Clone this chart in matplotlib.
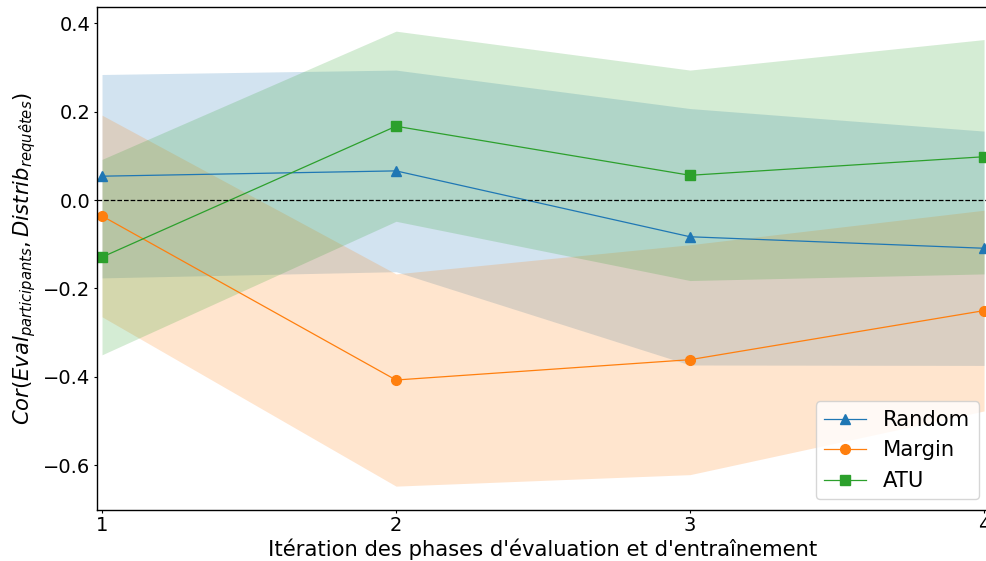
import numpy as np
import matplotlib
matplotlib.use("Agg")
import matplotlib.pyplot as plt

iterations = [1, 2, 3, 4]

random_mean = [0.054, 0.066, -0.083, -0.109]
random_std = [0.230, 0.228, 0.290, 0.265]

margin_mean = [-0.036, -0.407, -0.361, -0.250]
margin_std = [0.228, 0.240, 0.260, 0.227]

atu_mean = [-0.129, 0.167, 0.056, 0.098]
atu_std = [0.221, 0.215, 0.238, 0.265]

series = [
    ("Random", random_mean, random_std, "C0", "^"),
    ("Margin", margin_mean, margin_std, "C1", "o"),
    ("ATU", atu_mean, atu_std, "C2", "s"),
]

TICK_FS = 14
LABEL_FS = 15.2
fig = plt.figure(figsize=(9.86, 5.61), dpi=100)
ax = fig.add_axes([0.0981, 0.0909, 0.9053, 0.8961])

x = np.array(iterations)
for name, mean, std, color, marker in series:
    m = np.array(mean)
    s = np.array(std)
    ax.plot(x, m, color=color, marker=marker, markersize=7, linewidth=0.9, label=name)
    ax.fill_between(x, m - s, m + s, color=color, alpha=0.2, linewidth=0)

ax.axhline(0, color="black", linestyle="--", linewidth=0.9)

ax.set_xlim(0.982, 4.018)
ax.set_ylim(-0.701, 0.436)
ax.set_xticks(iterations)
ax.set_yticks([-0.6, -0.4, -0.2, 0.0, 0.2, 0.4])
ax.tick_params(labelsize=TICK_FS, length=2.5, pad=2)
for sp in ax.spines.values():
    sp.set_linewidth(1.0)
ax.set_xlabel("Itération des phases d'évaluation et d'entraînement",
              fontsize=LABEL_FS, labelpad=2)
ax.set_ylabel(r"$Cor(Eval_{participants}, Distrib_{requêtes})$",
              fontsize=LABEL_FS, labelpad=4)
ax.legend(loc="lower right", fontsize=LABEL_FS)

fig.savefig("out.png", dpi=100)
